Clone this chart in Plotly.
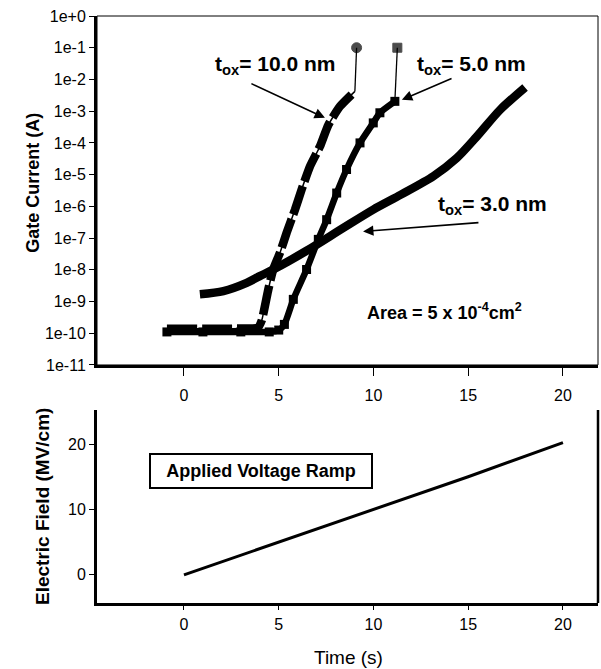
import plotly.graph_objects as go
from plotly.subplots import make_subplots

FONT = "Liberation Sans, Arial, sans-serif"

# ---- data: tox = 10.0 nm (gate current vs time)
t10 = [-0.9, 1.0, 3.0, 3.9, 4.1, 4.45, 4.71, 5.07, 5.42, 5.86, 6.21, 6.65, 7.18, 7.62,
       8.23, 9.02]
i10 = [1.38e-10, 1.38e-10, 1.41e-10, 1.51e-10, 2.5e-10, 2.4e-9, 1.02e-8, 3.5e-8, 1.48e-7,
       7.9e-7, 3.4e-6, 1.82e-5, 7.8e-5, 3.7e-4, 1.41e-3, 4.2e-3]
bd_t10 = [9.02, 9.11]
bd_i10 = [4.2e-3, 1e-1]

# ---- data: tox = 5.0 nm
t5 = [-0.9, 1.0, 3.0, 4.5, 5.0, 5.3, 5.77, 6.47, 7.09, 7.53, 8.06, 8.58, 9.29, 9.99,
      10.34, 11.13]
i5 = [1.1e-10, 1.1e-10, 1.1e-10, 1.1e-10, 1.26e-10, 1.9e-10, 1.17e-9, 1.02e-8, 9.1e-8,
      3.8e-7, 2.63e-6, 1.45e-5, 1.0e-4, 4.27e-4, 8.9e-4, 2.04e-3]
bd_t5 = [11.13, 11.26]
bd_i5 = [2.04e-3, 1e-1]

# ---- data: tox = 3.0 nm
t3 = [0.84, 2.08, 3.31, 4.0, 4.71, 6.47, 8.41, 9.99, 11.45, 13.16, 14.39, 15.45, 16.68, 18.0]
i3 = [1.7e-9, 2.14e-9, 3.89e-9, 6.3e-9, 1.02e-8, 3.98e-8, 2.09e-7, 7.9e-7, 2.34e-6, 8.9e-6,
      3.3e-5, 1.58e-4, 1.1e-3, 5.6e-3]

# ---- data: applied voltage ramp
ramp_t = [0, 5, 10, 15, 20]
ramp_field = [0, 5, 10, 15, 20.2]

# ---- ticks
x_ticks = [0, 5, 10, 15, 20]
y_log_vals = [1, 1e-1, 1e-2, 1e-3, 1e-4, 1e-5, 1e-6, 1e-7, 1e-8, 1e-9, 1e-10, 1e-11]
y_log_text = ["1e+0", "1e-1", "1e-2", "1e-3", "1e-4", "1e-5", "1e-6", "1e-7", "1e-8",
              "1e-9", "1e-10", "1e-11"]
field_ticks = [0, 10, 20]

fig = make_subplots(rows=2, cols=1, vertical_spacing=0.05)

# thin base line for segmented 10 nm curve
fig.add_trace(go.Scatter(x=t10, y=i10, mode="lines",
                         line=dict(color="black", width=1.5, shape="spline", smoothing=0.5),
                         showlegend=False), row=1, col=1)
fig.add_trace(go.Scatter(x=t10, y=i10, mode="lines",
                         line=dict(color="black", width=8.5, dash="30px,5px",
                                   shape="spline", smoothing=0.5),
                         showlegend=False), row=1, col=1)
fig.add_trace(go.Scatter(x=t5, y=i5, mode="lines+markers",
                         line=dict(color="black", width=6.5, shape="spline", smoothing=0.5),
                         marker=dict(symbol="square", size=9, color="black"),
                         showlegend=False), row=1, col=1)
fig.add_trace(go.Scatter(x=t3, y=i3, mode="lines",
                         line=dict(color="black", width=8.5, shape="spline", smoothing=0.8),
                         showlegend=False), row=1, col=1)
fig.add_trace(go.Scatter(x=bd_t10, y=bd_i10, mode="lines+markers",
                         line=dict(color="black", width=1.3),
                         marker=dict(symbol="circle", size=[0, 10], color="black",
                                     line=dict(color="black", width=1)),
                         showlegend=False), row=1, col=1)
fig.add_trace(go.Scatter(x=bd_t5, y=bd_i5, mode="lines+markers",
                         line=dict(color="black", width=1.3),
                         marker=dict(symbol="square", size=[0, 9], color="black",
                                     line=dict(color="black", width=1)),
                         showlegend=False), row=1, col=1)

fig.add_trace(go.Scatter(x=ramp_t, y=ramp_field, mode="lines",
                         line=dict(color="black", width=3), showlegend=False), row=2, col=1)

tickfont = dict(family=FONT, size=16, color="black")
xrange = [-4.59, 21.85]

fig.update_xaxes(range=xrange, tickvals=x_ticks, ticks="outside", ticklen=8, tickwidth=1,
                 tickcolor="black", showgrid=False, zeroline=False, showline=True,
                 linecolor="black", linewidth=3, tickfont=tickfont,
                 ticklabelstandoff=6, row=1, col=1)
fig.update_yaxes(type="log", range=[-11, 0], tickvals=y_log_vals, ticktext=y_log_text,
                 ticks="outside", ticklen=5, tickwidth=1, tickcolor="black",
                 showgrid=False, zeroline=False, showline=True, linecolor="black",
                 linewidth=3, tickfont=tickfont, row=1, col=1)
fig.update_xaxes(range=xrange, tickvals=x_ticks, ticks="outside", ticklen=4, tickwidth=1,
                 tickcolor="black", showgrid=False, zeroline=False, showline=True,
                 linecolor="black", linewidth=3, tickfont=tickfont,
                 ticklabelstandoff=1, row=2, col=1)
fig.update_yaxes(range=[-4.3, 25.2], tickvals=field_ticks, ticks="outside", ticklen=5,
                 tickwidth=1, tickcolor="black", showgrid=False, zeroline=False,
                 showline=True, linecolor="black", linewidth=3, tickfont=tickfont,
                 row=2, col=1)

# domains
fig.update_layout(
    yaxis=dict(domain=[0.4055, 1.0]),
    yaxis2=dict(domain=[0.0, 0.3288]),
)

# frame lines
fig.add_shape(type="rect", xref="x domain", yref="y domain", x0=0, x1=1, y0=0, y1=1,
              line=dict(color="black", width=1))
fig.add_shape(type="line", xref="x2 domain", yref="y2 domain", x0=1, x1=1, y0=0, y1=1,
              line=dict(color="black", width=2.5))

bold = dict(family=FONT, size=21, color="black")
ann = []
# labels in top panel (log axis: positions given as log10)
ann.append(dict(x=4.8, y=-1.55, xref="x", yref="y", text="<b>t<sub>ox</sub>= 10.0 nm</b>",
                showarrow=False, font=bold))
ann.append(dict(x=15.15, y=-1.55, xref="x", yref="y", text="<b>t<sub>ox</sub>= 5.0 nm</b>",
                showarrow=False, font=bold))
ann.append(dict(x=16.3, y=-5.95, xref="x", yref="y", text="<b>t<sub>ox</sub>= 3.0 nm</b>",
                showarrow=False, font=bold))
ann.append(dict(x=13.75, y=-9.3, xref="x", yref="y",
                text="<b>Area = 5 x 10<sup>-4</sup>cm<sup>2</sup></b>",
                showarrow=False, font=dict(family=FONT, size=18, color="black")))
arrow = dict(xref="x", yref="y", axref="x", ayref="y", text="", showarrow=True,
             arrowhead=2, arrowsize=1.3, arrowwidth=1.6, arrowcolor="black")
ann.append(dict(arrow, x=7.44, y=-3.21, ax=3.48, ay=-2.11))
ann.append(dict(arrow, x=11.5, y=-2.64, ax=14.2, ay=-1.95))
ann.append(dict(arrow, x=9.45, y=-6.79, ax=15.62, ay=-6.51))

# boxed label in bottom panel
ann.append(dict(x=4.09, y=15.95, xref="x2", yref="y2", text="<b>Applied Voltage Ramp</b>",
                showarrow=False, font=dict(family=FONT, size=18, color="black"),
                bordercolor="black", borderwidth=2, borderpad=4, width=212, height=24))

# axis titles
ann.append(dict(x=-0.128, y=0.7155, xref="paper", yref="paper", xanchor="center",
                yanchor="middle", text="<b>Gate Current (A)</b>",
                textangle=-90, showarrow=False, font=dict(family=FONT, size=18, color="black")))
ann.append(dict(x=-0.11, y=0.165, xref="paper", yref="paper", xanchor="center",
                yanchor="middle", text="<b>Electric Field (MV/cm)</b>", textangle=-90,
                showarrow=False, font=dict(family=FONT, size=19, color="black")))
ann.append(dict(x=0.501, y=-0.092, xref="paper", yref="paper", xanchor="center",
                yanchor="middle", text="Time (s)",
                showarrow=False, font=dict(family=FONT, size=19, color="black")))

fig.update_layout(
    width=601, height=669,
    margin=dict(l=97, r=3, t=16, b=66),
    paper_bgcolor="white", plot_bgcolor="white",
    annotations=ann,
    font=dict(family=FONT, color="black"),
)

fig.write_html("out.html")
